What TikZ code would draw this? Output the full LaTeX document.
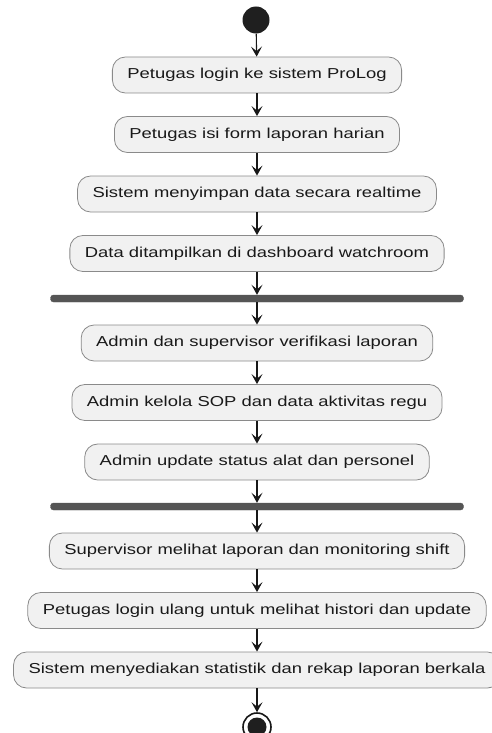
\documentclass[tikz,border=0pt]{standalone}
\usepackage{fontspec}
\setmainfont{Liberation Sans}[FakeStretch=1.28]
\usepackage{tikz}
\usetikzlibrary{arrows.meta}

\definecolor{actfill}{HTML}{F1F1F1}
\definecolor{actline}{HTML}{8A8A8A}
\definecolor{barfill}{HTML}{555555}
\definecolor{flowline}{HTML}{181818}

\tikzset{
  act/.style={draw=actline, fill=actfill, rounded corners=13pt, line width=0.8pt,
    minimum height=36pt, inner xsep=15pt, inner ysep=0pt,
    font=\fontsize{14.4}{17}\selectfont, text=black!90},
  syncbar/.style={fill=barfill, draw=barfill, rounded corners=3pt, inner sep=0pt,
    minimum width=413pt, minimum height=7pt},
  flow/.style={draw=flowline, line width=1.1pt, -{Stealth[length=10pt,width=11pt,inset=4.5pt]}}
}

\begin{document}
\begin{tikzpicture}[x=1pt,y=-1pt]
\useasboundingbox (0,0) rectangle (491,733);

\node[circle, fill=black!88, minimum size=27pt, inner sep=0pt] (start) at (256,20) {};

\foreach \i/\y/\t in {
  1/75/Petugas login ke sistem ProLog,
  2/134.5/Petugas isi form laporan harian,
  3/194/Sistem menyimpan data secara realtime,
  4/253.5/Data ditampilkan di dashboard watchroom,
  5/343/Admin dan supervisor verifikasi laporan,
  6/402.5/Admin kelola SOP dan data aktivitas regu,
  7/462/Admin update status alat dan personel,
  8/551/Supervisor melihat laporan dan monitoring shift,
  9/610.5/Petugas login ulang untuk melihat histori dan update,
  10/670/Sistem menyediakan statistik dan rekap laporan berkala}{
  \node[act] (a\i) at (257,\y) {\t};
}

\node[syncbar] (bar1) at (257,298.5) {};
\node[syncbar] (bar2) at (257,506.5) {};

\node[circle, draw=flowline, fill=white, line width=1.6pt, minimum size=28pt, inner sep=0pt] (stop) at (257,727) {};
\fill[black!88] (stop) circle (9.5pt);

\draw[flow] (start) -- (a1);
\foreach \i/\j in {1/2,2/3,3/4,5/6,6/7,8/9,9/10}{
  \draw[flow] (a\i) -- (a\j);
}
\draw[flow] (a4) -- (bar1);
\draw[flow] (bar1) -- (a5);
\draw[flow] (a7) -- (bar2);
\draw[flow] (bar2) -- (a8);
\draw[flow] (a10) -- (stop);
\end{tikzpicture}
\end{document}
